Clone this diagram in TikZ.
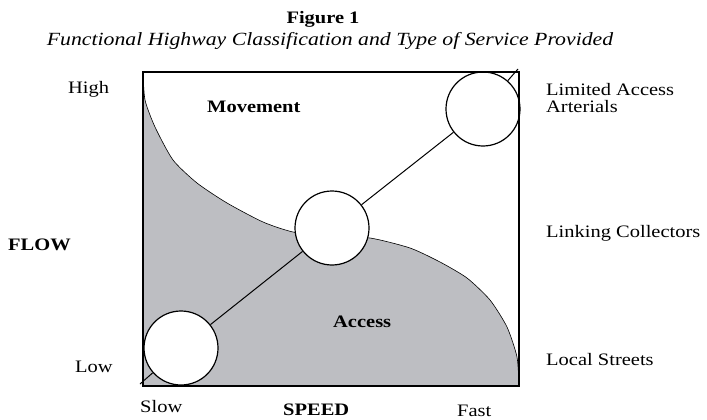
\documentclass[tikz,border=0pt]{standalone}
\usepackage{fontspec}
\setmainfont[FakeStretch=1.17]{Liberation Serif}
\definecolor{accessgray}{RGB}{189,190,194}
\usepackage{tikz}

\begin{document}
\begin{tikzpicture}[x=1pt,y=-1pt,
    every node/.style={inner sep=0pt, font=\fontsize{17.5}{17.5}\selectfont},
    zonetext/.style={font=\fontsize{17.5}{17.5}\selectfont\bfseries},
    roadclass/.style={circle, draw, line width=1.2pt, fill=white, minimum size=74pt}]
  \useasboundingbox (0,0) rectangle (707,420);

  \fill[accessgray] (143,72) -- plot[smooth, tension=0.4] coordinates {(143,72) (145,100) (155,127) (173,160) (197,183) (227,203) (263,222) (293,232) (332,237) (370,238) (410,248) (440,262) (467,278) (490,300) (507,327) (517,357) (519,386)} -- (143,386) -- cycle;
  \draw[line width=0.6pt] plot[smooth, tension=0.4] coordinates {(143,72) (145,100) (155,127) (173,160) (197,183) (227,203) (263,222) (293,232) (332,237) (370,238) (410,248) (440,262) (467,278) (490,300) (507,327) (517,357) (519,386)};

  \node[roadclass] (local) at (181,348) {};
  \node[roadclass] (linking) at (332,228) {};
  \node[roadclass] (arterial) at (483,109) {};
  \coordinate (slowend) at (140,384);
  \coordinate (fastend) at (518,69);
  \draw[line width=1pt] (slowend) -- (local) -- (linking) -- (arterial) -- (fastend);

  \draw[line width=1.5pt] (143,72) rectangle (519,386);

  \node[zonetext, anchor=base] (figno) at (323,24) {Figure 1};
  \node[anchor=base, font=\fontsize{18.6}{18.6}\selectfont\itshape] (figtitle) at (330,46) {Functional Highway Classification and Type of Service Provided};

  \node[zonetext, anchor=base west] (movement) at (207,113) {Movement};
  \node[zonetext, anchor=base west] (access) at (333,327) {Access};

  \node[anchor=base west] (high) at (68,93) {High};
  \node[anchor=base west] (low) at (75,372) {Low};
  \node[zonetext, anchor=base east] (flow) at (71,250) {FLOW};
  \node[anchor=base west] (slow) at (140,412) {Slow};
  \node[zonetext, anchor=base west] (speed) at (283,415) {SPEED};
  \node[anchor=base west] (fast) at (457,416) {Fast};

  \node[anchor=base west, align=left] (arteriallbl) at (546,113) {Limited Access\\Arterials};
  \node[anchor=base west] (linkinglbl) at (546,237) {Linking Collectors};
  \node[anchor=base west] (locallbl) at (546,365) {Local Streets};
\end{tikzpicture}
\end{document}
